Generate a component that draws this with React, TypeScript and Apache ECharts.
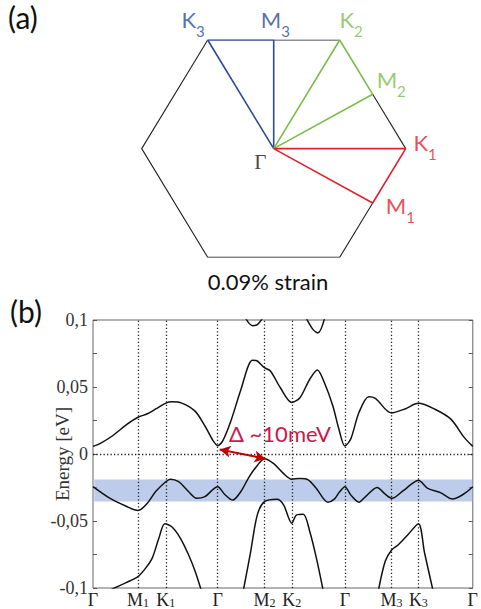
import React, { useEffect, useRef } from "react";
import * as echarts from "echarts";

// ---------- Panel (b) data ----------
const kTicks = [0, 45.7, 74, 126.7, 174.3, 202, 256, 303.3, 330.7, 386];
const kLabelMain = ["Γ", "M", "K", "Γ", "M", "K", "Γ", "M", "K", "Γ"];
const kLabelSub = ["", "1", "1", "", "2", "2", "", "3", "3", ""];
const yTicks = [-0.1, -0.05, 0, 0.05, 0.1];
const yTickLabels = ["-0,1", "-0,05", "0", "0,05", "0,1"];

const bandA: [number, number][] = [
  [0, 0.0057], [7, 0.0077], [20.3, 0.0138], [33.7, 0.0217], [45.7, 0.0274],
  [55.3, 0.030], [63.7, 0.0336], [74, 0.038], [80.3, 0.039], [90.3, 0.038],
  [103.7, 0.032], [113.7, 0.021], [122, 0.010], [126.7, 0.0062], [132, 0.010],
  [140.3, 0.025], [150.3, 0.048], [162, 0.070], [167, 0.0694], [174.3, 0.0644],
  [180.3, 0.062], [190.3, 0.0496], [202, 0.0385], [210.3, 0.042], [220.3, 0.0558],
  [228, 0.0627], [235.3, 0.053], [243.7, 0.036], [250.3, 0.0175], [256, 0.006],
  [262, 0.0113], [270.3, 0.031], [280.3, 0.0427], [287, 0.0415], [303.3, 0.0306],
  [317, 0.0336], [330.7, 0.0378], [347, 0.0336], [363.7, 0.026], [377, 0.0126],
  [386, 0.0057],
];

const bandB: [number, number][] = [
  [0, -0.0244], [17, -0.033], [33.7, -0.039], [45.7, -0.0422], [55, -0.037],
  [63.7, -0.028], [74, -0.0207], [78.7, -0.0188], [87, -0.0207], [97, -0.028],
  [105.3, -0.033], [113.7, -0.0318], [126.7, -0.0244], [133.7, -0.030], [142, -0.0344],
  [150.3, -0.028], [158.7, -0.017], [167, -0.0085], [174.3, -0.0035], [183.7, -0.0072],
  [193.7, -0.0146], [202, -0.0188], [210.3, -0.0183], [218.7, -0.0193], [227, -0.0257],
  [238.7, -0.036], [245.3, -0.0337], [250.3, -0.0286], [256, -0.0244], [262, -0.0306],
  [270.3, -0.036], [277, -0.0318], [288.7, -0.025], [297, -0.030], [303.7, -0.0331],
  [315.3, -0.0274], [323.7, -0.0225], [330.7, -0.0195], [340.3, -0.0257], [353.7, -0.029],
  [365.3, -0.0336], [375.3, -0.0306], [386, -0.0244],
];

const bandC1: [number, number][] = [
  [18.7, -0.101], [33.7, -0.096], [45.7, -0.0915], [53.7, -0.085], [60.3, -0.0775],
  [67, -0.0627], [73, -0.052], [80.3, -0.0545], [88.7, -0.0627], [97, -0.075],
  [103.7, -0.0874], [109.7, -0.101],
];

const bandC2: [number, number][] = [
  [153, -0.101], [160.3, -0.0726], [167, -0.0454], [174.3, -0.0356], [187, -0.0338],
  [193.7, -0.038], [202, -0.0516], [207, -0.0454], [213.7, -0.045], [220.3, -0.0578],
  [227, -0.0775], [233.7, -0.101],
];

const bandC3: [number, number][] = [
  [290.3, -0.101], [297, -0.080], [303.7, -0.0714], [310.3, -0.0677], [320.3, -0.060],
  [330.7, -0.052], [337, -0.0739], [345.3, -0.101],
];

const bandT1: [number, number][] = [[155.3, 0.101], [162, 0.0958], [167, 0.0965], [172, 0.101]];
const bandT2: [number, number][] = [[217, 0.101], [223.7, 0.0928], [228.7, 0.0904], [235.3, 0.101]];

const gapBand = [-0.0355, -0.019];
const gapArrow: [number, number][] = [[128.7, 0.0034], [175.3, -0.0035]];
const gapText = "Δ ~10meV";
const gapTextPos: [number, number] = [190, 0.015];

// ---------- Panel (a) data (hexagonal Brillouin zone, unit circumradius) ----------
const G: [number, number] = [0, 0];
const K1: [number, number] = [1, 0];
const M1: [number, number] = [0.75, -0.433];
const K2: [number, number] = [0.5, 0.866];
const M2: [number, number] = [0.75, 0.433];
const K3: [number, number] = [-0.5, 0.866];
const M3: [number, number] = [0, 0.866];
const BR: [number, number] = [0.5, -0.866];
const BL: [number, number] = [-0.5, -0.866];
const L: [number, number] = [-1, 0];

const hexBlack1 = [M3, K2];
const hexBlack2 = [M2, K1];
const hexBlack3 = [M1, BR, BL, L, K3];
const pathBlue = [G, K3, M3, G];
const pathGreen = [G, K2, M2, G];
const pathRed = [G, K1, M1, G];

const BLUE = "#2b4b9b";
const GREEN = "#7cbc4b";
const RED = "#e3202b";

const SANS = "Lato";
const SERIF = "Liberation Serif";

export default function App() {
  const ref = useRef<HTMLDivElement>(null);

  useEffect(() => {
    document.body.style.margin = "0";
    if (!ref.current) return;
    const chart = echarts.init(ref.current, undefined, { renderer: "svg" });

    const richA = (color: string) => ({
      m: { fontSize: 22, lineHeight: 22, padding: [0, 0, 8, 0], verticalAlign: "bottom", color, fontFamily: SANS },
      s: { fontSize: 15, lineHeight: 22, verticalAlign: "bottom", color, fontFamily: SANS },
    });

    const ptLabel = (
      pt: [number, number],
      main: string,
      sub: string,
      color: string,
      offset: [number, number]
    ) => ({
      value: pt,
      label: {
        show: true,
        position: "inside",
        offset,
        formatter: sub ? `{m|${main}}{s|${sub}}` : `{m|${main}}`,
        rich: richA(color),
      },
    });

    const hexLine = (data: [number, number][], color: string, width: number) => ({
      type: "line",
      xAxisIndex: 0,
      yAxisIndex: 0,
      data,
      symbol: "none",
      lineStyle: { color, width },
      silent: true,
      z: color === "#222" ? 2 : 3,
    });

    const bandLine = (data: [number, number][], extra: any = {}) => ({
      type: "line",
      xAxisIndex: 1,
      yAxisIndex: 1,
      data,
      symbol: "none",
      smooth: 0.3,
      lineStyle: { color: "#111", width: 1.5 },
      silent: true,
      ...extra,
    });

    const option: any = {
      animation: false,
      grid: [
        { left: 141.7, top: 40, width: 264, height: 217.3, show: false },
        { left: 93, top: 320, right: 2, bottom: 19, show: true, borderColor: "#666", borderWidth: 1, backgroundColor: "transparent" },
      ],
      xAxis: [
        { gridIndex: 0, type: "value", min: -1, max: 1, show: false },
        {
          gridIndex: 1,
          type: "value",
          min: 0,
          max: 386,
          axisLine: { show: false },
          axisTick: { show: false },
          splitLine: { show: false },
          axisLabel: {
            customValues: kTicks,
            margin: 1,
            formatter: (v: number) => {
              const i = kTicks.findIndex((t) => Math.abs(t - v) < 0.01);
              if (i < 0) return "";
              return kLabelSub[i] ? `{m|${kLabelMain[i]}}{s|${kLabelSub[i]}}` : `{m|${kLabelMain[i]}}`;
            },
            rich: {
              m: { fontFamily: SERIF, fontSize: 18, lineHeight: 20, verticalAlign: "bottom", color: "#222" },
              s: { fontFamily: SERIF, fontSize: 12, lineHeight: 16, verticalAlign: "bottom", color: "#222" },
            },
          },
        },
      ],
      yAxis: [
        { gridIndex: 0, type: "value", min: -0.866, max: 0.866, show: false },
        {
          gridIndex: 1,
          type: "value",
          min: -0.1,
          max: 0.1,
          interval: 0.025,
          position: "left",
          axisLine: { show: false },
          axisTick: { show: true, inside: true, length: 4, lineStyle: { color: "#555" } },
          splitLine: { show: false },
          axisLabel: {
            margin: 5,
            fontFamily: SERIF,
            fontSize: 18,
            color: "#333",
            formatter: (v: number) => {
              const i = yTicks.findIndex((t) => Math.abs(t - v) < 1e-6);
              return i >= 0 ? yTickLabels[i] : "";
            },
          },
          name: "Energy [eV]",
          nameLocation: "middle",
          nameGap: 21,
          nameMoveOverlap: false,
          nameTextStyle: { fontFamily: SERIF, fontSize: 19, color: "#333" },
        },
        {
          gridIndex: 1,
          type: "value",
          min: -0.1,
          max: 0.1,
          interval: 0.025,
          position: "right",
          axisLine: { show: false },
          axisTick: { show: true, inside: true, length: 4, lineStyle: { color: "#555" } },
          axisLabel: { show: false },
          splitLine: { show: false },
        },
      ],
      graphic: [
        { type: "text", left: 8, top: 2, style: { text: "(a)", font: `30px ${SANS}`, fill: "#111" } },
        { type: "text", left: 10, top: 296, style: { text: "(b)", font: `30px ${SANS}`, fill: "#111" } },
        {
          type: "text",
          x: 268,
          y: 281,
          style: { text: "0.09% strain", font: `22px ${SANS}`, fill: "#111", align: "center", verticalAlign: "middle" },
        },
      ],
      series: [
        hexLine(hexBlack1 as any, "#222", 1.1),
        hexLine(hexBlack2 as any, "#222", 1.1),
        hexLine(hexBlack3 as any, "#222", 1.1),
        hexLine(pathBlue as any, BLUE, 1.6),
        hexLine(pathGreen as any, GREEN, 1.6),
        hexLine(pathRed as any, RED, 1.6),
        {
          type: "scatter",
          xAxisIndex: 0,
          yAxisIndex: 0,
          symbolSize: 0,
          silent: true,
          z: 5,
          data: [
            ptLabel(K3, "K", "3", BLUE, [-14.7, -12.8]),
            ptLabel(M3, "M", "3", BLUE, [1.7, -12.8]),
            ptLabel(K2, "K", "2", GREEN, [11.5, -12.8]),
            ptLabel(M2, "M", "2", GREEN, [18.5, -6.6]),
            ptLabel(K1, "K", "1", RED, [19.3, 1.9]),
            ptLabel(M1, "M", "1", RED, [27.7, 11]),
            {
              value: G,
              label: {
                show: true,
                position: "inside",
                offset: [-13.3, 12.9],
                formatter: "Γ",
                fontFamily: SERIF,
                fontSize: 21,
                color: "#111",
              },
            },
          ],
        },
        bandLine(bandA, {
          markLine: {
            silent: true,
            symbol: ["none", "none"],
            label: { show: false },
            lineStyle: { type: [1.3, 2.2], color: "#222", width: 1.3 },
            data: [...kTicks.slice(1, -1).map((v) => ({ xAxis: v })), { yAxis: 0 }],
          },
        }),
        bandLine(bandB, {
          markArea: {
            silent: true,
            itemStyle: { color: "rgba(143,170,220,0.6)" },
            data: [[{ yAxis: gapBand[0], xAxis: 1.3 }, { yAxis: gapBand[1], xAxis: 386 }]],
          },
          markLine: {
            silent: true,
            symbol: ["arrow", "arrow"],
            symbolSize: [9, 11],
            label: { show: false },
            lineStyle: { type: "solid", color: "#c00000", width: 2 },
            data: [[{ coord: gapArrow[0] }, { coord: gapArrow[1] }]],
          },
          markPoint: {
            silent: true,
            symbol: "circle",
            symbolSize: 0,
            data: [
              {
                coord: gapTextPos,
                label: { show: true, position: "inside", formatter: gapText, color: "#c9184a", fontSize: 22, fontFamily: SANS },
              },
            ],
          },
        }),
        bandLine(bandC1),
        bandLine(bandC2),
        bandLine(bandC3),
        bandLine(bandT1),
        bandLine(bandT2),
      ],
    };

    chart.setOption(option);
    return () => chart.dispose();
  }, []);

  return <div ref={ref} style={{ width: 481, height: 609 }} />;
}
